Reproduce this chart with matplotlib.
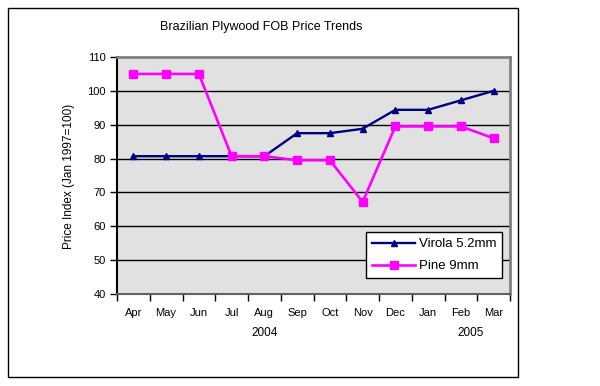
import matplotlib
matplotlib.use("Agg")
import matplotlib.pyplot as plt
from matplotlib.patches import Rectangle
from matplotlib.transforms import blended_transform_factory

plt.rcParams['font.family'] = ['Liberation Sans', 'DejaVu Sans']

# Chart data
months = ["Apr", "May", "Jun", "Jul", "Aug", "Sep", "Oct", "Nov", "Dec", "Jan", "Feb", "Mar"]
virola = [80.7, 80.7, 80.7, 80.7, 80.7, 87.5, 87.5, 88.8, 94.4, 94.4, 97.2, 100.0]
pine = [105.0, 105.0, 105.0, 80.7, 80.7, 79.5, 79.5, 67.2, 89.5, 89.5, 89.5, 86.0]
years = ["2004", "2005"]
year_pos = [4.0, 10.3]

W, H = 600, 386
fig = plt.figure(figsize=(W / 100, H / 100), dpi=100)

# outer chart border
fig.patches.append(Rectangle((8 / W, 1 - 377 / H), 510 / W, 369 / H,
                             transform=fig.transFigure, fill=False,
                             edgecolor="black", linewidth=1))

ax = fig.add_axes([117 / W, 1 - 294 / H, 393 / W, 237 / H])
ax.set_facecolor("#E1E1E1")

x = list(range(len(months)))
ax.plot(x, virola, color="#000080", linewidth=1.7, marker="^", markersize=5,
        label="Virola 5.2mm", zorder=3)
ax.plot(x, pine, color="#FF00FF", linewidth=1.9, marker="s", markersize=5.5,
        label="Pine 9mm", zorder=3)

ax.set_xlim(-0.5, len(months) - 0.5)
ax.set_ylim(40, 110)
ax.set_yticks(range(40, 111, 10))
ax.tick_params(axis="y", labelsize=8, length=5, width=1, direction="out", pad=3)
for yv in range(50, 110, 10):
    ax.axhline(yv, color="black", linewidth=1, zorder=1)

ax.set_xticks([i - 0.5 for i in range(len(months) + 1)])
ax.set_xticklabels([])
ax.set_xticks(x, minor=True)
ax.set_xticklabels(months, minor=True)
ax.tick_params(axis="x", which="major", length=5, width=1, direction="out")
ax.tick_params(axis="x", which="minor", length=0, labelsize=8, pad=10)

for side in ("top", "right"):
    ax.spines[side].set_color("#808080")
    ax.spines[side].set_linewidth(2)
ax.spines["left"].set_color("black")
ax.spines["left"].set_linewidth(1.5)
ax.spines["bottom"].set_color("#606060")
ax.spines["bottom"].set_linewidth(1.5)

tr = blended_transform_factory(ax.transData, fig.transFigure)
for yr, xp in zip(years, year_pos):
    ax.text(xp, 1 - 333 / H, yr, transform=tr, ha="center", va="center", fontsize=8.5)

ax.set_ylabel("Price Index (Jan 1997=100)", fontsize=8.5)
ax.yaxis.set_label_coords(75 / W, 1 - 176 / H, transform=fig.transFigure)

fig.text(261 / W, 1 - 27 / H, "Brazilian Plywood FOB Price Trends",
         ha="center", va="center", fontsize=9)

leg = ax.legend(loc="upper left", bbox_to_anchor=(366 / W, 1 - 232 / H),
                bbox_transform=fig.transFigure, fontsize=9.5, fancybox=False,
                edgecolor="black", framealpha=1, handlelength=3.3,
                borderpad=0.45, labelspacing=0.75, handletextpad=0.25,
                borderaxespad=0)
leg.get_frame().set_linewidth(1)
leg.set_zorder(5)

fig.savefig("out.png", dpi=100, facecolor="white")
